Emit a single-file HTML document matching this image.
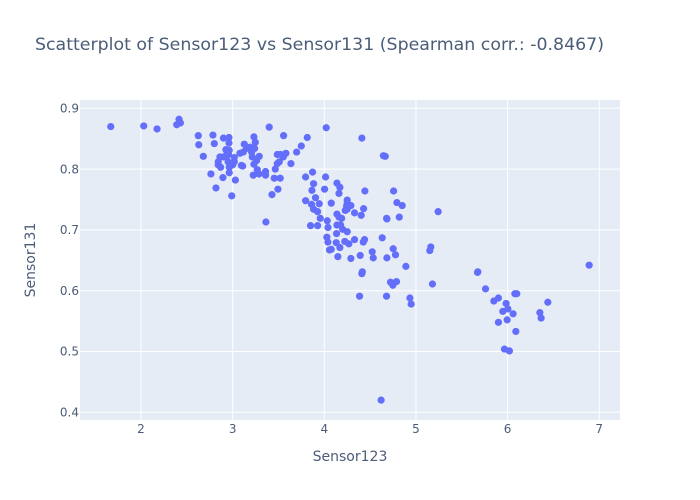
<!DOCTYPE html>
<html>
<head>
<meta charset="utf-8">
<title>Scatterplot of Sensor123 vs Sensor131</title>
<style>
html,body{margin:0;padding:0;background:#fff;}
svg{display:block;font-family:"DejaVu Sans","Liberation Sans",sans-serif;}
</style>
</head>
<body>
<svg id="chart" width="700" height="500" viewBox="0 0 700 500" xmlns="http://www.w3.org/2000/svg">
<rect x="0" y="0" width="700" height="500" fill="#ffffff"></rect>
<rect x="80" y="100" width="540" height="320" fill="#e5ecf6"></rect>
<g id="grid"></g>
<g id="points"></g>
<g id="xticks"></g>
<g id="yticks"></g>
<text x="35" y="50" font-size="17" fill="#2a3f5f" fill-opacity="0.85" textLength="569" lengthAdjust="spacingAndGlyphs">Scatterplot of Sensor123 vs Sensor131 (Spearman corr.: -0.8467)</text>
<text x="350" y="461" font-size="14" fill="#2a3f5f" fill-opacity="0.85" text-anchor="middle">Sensor123</text>
<text x="0" y="0" font-size="14" fill="#2a3f5f" fill-opacity="0.85" text-anchor="middle" transform="translate(35,260) rotate(-90)">Sensor131</text>
</svg>
<script>
const xTickValues = [2, 3, 4, 5, 6, 7];
const yTickValues = [0.4, 0.5, 0.6, 0.7, 0.8, 0.9];
const yTickLabels = ['0.4', '0.5', '0.6', '0.7', '0.8', '0.9'];
const sensor123 = [
1.67,2.03,2.175,2.415,2.43,2.39,2.625,2.63,2.68,2.785,2.8,2.763,2.818,2.99,2.894,3.03,2.9,2.96,2.96,
2.927,2.963,2.941,2.861,2.898,2.934,2.843,2.843,2.869,2.963,2.963,3.0,3.018,3.018,3.079,3.116,3.127,3.152,3.189,3.232,3.247,3.225,3.207,3.214,3.29,3.261,3.232,3.109,3.225,3.269,3.287,3.359,3.359,3.454,3.519,3.494,3.429,3.465,3.487,3.509,3.487,3.523,3.552,3.581,3.636,3.698,3.749,3.814,3.556,3.399,3.796,3.796,
4.021,4.41,4.665,3.872,4.014,3.883,3.865,4.003,3.861,3.883,3.927,3.945,4.076,3.956,4.032,3.85,3.927,4.04,4.138,4.17,4.16,4.443,4.756,4.792,4.85,4.818,4.683,4.429,4.403,4.33,4.25,4.25,4.29,4.229,4.25,4.138,4.16,4.189,4.138,4.178,4.2,
3.904,4.243,4.134,4.25,4.028,4.039,4.057,4.13,4.17,4.224,4.268,4.33,4.425,4.439,4.632,4.523,4.534,4.392,4.29,4.148,4.752,4.777,4.683,4.89,4.41,4.723,4.788,4.748,4.385,4.679,4.934,4.948,
5.242,5.162,5.151,5.675,5.18,5.759,5.85,5.9,6.89,6.079,6.1,5.984,6.003,5.948,6.06,6.439,6.352,6.366,5.995,5.9,6.09,5.966,6.02,4.62,3.363,
4.645,4.415,5.672,4.075,3.095,2.955,2.95,3.24,4.68
];
const sensor131 = [
0.87,0.871,0.866,0.882,0.876,0.873,0.855,0.84,0.821,0.856,0.842,0.792,0.769,0.756,0.786,0.782,0.851,0.852,0.843,
0.832,0.831,0.826,0.82,0.82,0.821,0.812,0.807,0.803,0.803,0.794,0.807,0.812,0.819,0.826,0.828,0.841,0.834,0.836,0.853,0.844,0.834,0.828,0.82,0.821,0.814,0.808,0.805,0.79,0.799,0.792,0.796,0.79,0.785,0.785,0.767,0.758,0.8,0.809,0.812,0.824,0.824,0.82,0.826,0.809,0.828,0.838,0.852,0.855,0.869,0.787,0.748,
0.868,0.851,0.821,0.795,0.787,0.776,0.765,0.767,0.742,0.734,0.73,0.743,0.744,0.719,0.715,0.707,0.707,0.704,0.777,0.77,0.76,0.764,0.764,0.745,0.74,0.721,0.718,0.735,0.724,0.728,0.749,0.744,0.74,0.732,0.734,0.726,0.721,0.719,0.708,0.708,0.701,
0.753,0.739,0.694,0.697,0.688,0.68,0.667,0.679,0.671,0.681,0.677,0.684,0.68,0.684,0.687,0.664,0.654,0.658,0.653,0.656,0.669,0.659,0.654,0.64,0.628,0.614,0.615,0.609,0.591,0.591,0.588,0.578,
0.73,0.672,0.666,0.631,0.611,0.603,0.583,0.588,0.642,0.595,0.595,0.579,0.57,0.566,0.562,0.581,0.564,0.555,0.552,0.548,0.533,0.504,0.501,0.42,0.713,
0.822,0.631,0.63,0.668,0.806,0.824,0.812,0.834,0.719
];

const SVG_NS = 'http://www.w3.org/2000/svg';
function xScale(v) { return 141 + (v - 2) * 91.65; }
function yScale(v) { return 412.3 - (v - 0.4) * 608; }

const grid = document.getElementById('grid');
const pointsGroup = document.getElementById('points');
const xTicksGroup = document.getElementById('xticks');
const yTicksGroup = document.getElementById('yticks');

xTickValues.forEach(function (v) {
  const line = document.createElementNS(SVG_NS, 'line');
  
  
  line.setAttribute('x1', xScale(v));
  line.setAttribute('x2', xScale(v));
  line.setAttribute('y1', 100);
  line.setAttribute('y2', 420);
  line.setAttribute('stroke', '#ffffff');
  line.setAttribute('stroke-width', 1);
  grid.appendChild(line);
  const label = document.createElementNS(SVG_NS, 'text');
  
  
  label.setAttribute('x', xScale(v));
  label.setAttribute('y', 433);
  label.setAttribute('font-size', 12);
  label.setAttribute('fill', '#2a3f5f');
  label.setAttribute('fill-opacity', '0.85');
  label.setAttribute('text-anchor', 'middle');
  label.textContent = String(v);
  xTicksGroup.appendChild(label);
});

yTickValues.forEach(function (v, i) {
  const line = document.createElementNS(SVG_NS, 'line');
  
  
  line.setAttribute('x1', 80);
  line.setAttribute('x2', 620);
  line.setAttribute('y1', yScale(v));
  line.setAttribute('y2', yScale(v));
  line.setAttribute('stroke', '#ffffff');
  line.setAttribute('stroke-width', 1);
  grid.appendChild(line);
  const label = document.createElementNS(SVG_NS, 'text');
  
  
  label.setAttribute('x', 79);
  label.setAttribute('y', yScale(v) + 4.2);
  label.setAttribute('font-size', 12);
  label.setAttribute('fill', '#2a3f5f');
  label.setAttribute('fill-opacity', '0.85');
  label.setAttribute('text-anchor', 'end');
  label.textContent = yTickLabels[i];
  yTicksGroup.appendChild(label);
});

sensor123.forEach(function (xv, i) {
  const dot = document.createElementNS(SVG_NS, 'circle');
  
  
  dot.setAttribute('cx', xScale(xv));
  dot.setAttribute('cy', yScale(sensor131[i]));
  dot.setAttribute('r', 3.6);
  dot.setAttribute('fill', '#636efa');
  pointsGroup.appendChild(dot);
});
</script>
</body>
</html>
